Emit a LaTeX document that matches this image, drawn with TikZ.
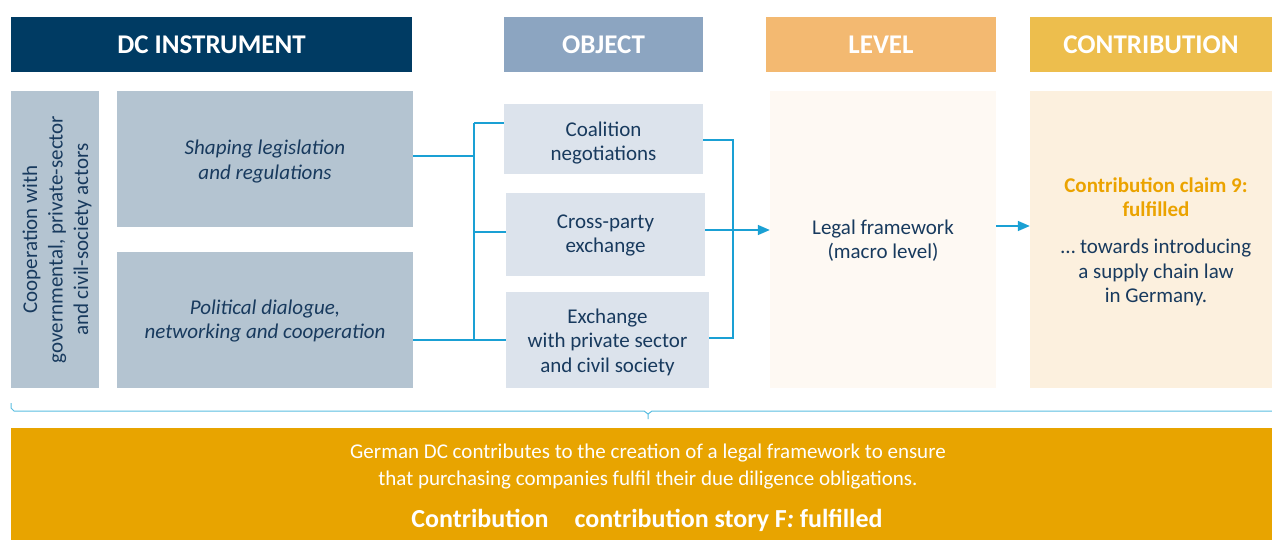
\documentclass[tikz,border=0pt]{standalone}
\usepackage{fontspec}
\setmainfont{Carlito}
\usetikzlibrary{arrows.meta}
\definecolor{navy}{RGB}{0,59,99}
\definecolor{objhdr}{RGB}{140,165,193}
\definecolor{levhdr}{RGB}{243,185,113}
\definecolor{conhdr}{RGB}{237,190,77}
\definecolor{leftbox}{RGB}{180,196,209}
\definecolor{objbox}{RGB}{220,227,236}
\definecolor{levbox}{RGB}{254,249,243}
\definecolor{conbox}{RGB}{252,240,222}
\definecolor{bottombox}{RGB}{232,164,0}
\definecolor{txt}{RGB}{24,58,94}
\definecolor{claim}{RGB}{235,163,0}
\definecolor{conn}{RGB}{26,160,212}
\definecolor{brace}{RGB}{90,190,225}
\begin{document}
\begin{tikzpicture}[x=1pt,y=-1pt,
  hdr/.style={fill=#1, draw=none, text=white, inner sep=0pt,
    font=\fontsize{27}{30}\selectfont\bfseries, minimum height=55pt},
  box/.style={fill=#1, draw=none, inner sep=0pt},
  lbl/.style={text=txt, align=center, inner sep=0pt,
    font=\fontsize{21}{24.5}\selectfont},
  link/.style={draw=conn, line width=1.2pt},
  arr/.style={draw=conn, line width=1.6pt, -{Triangle[length=12pt,width=10pt]}},
  btext/.style={text=white, align=center, inner sep=0pt}
]
\useasboundingbox (0,0) rectangle (1272,540);
\fill[white] (0,0) rectangle (1272,540);

% headers
\node[hdr=navy, minimum width=401pt] (hdc) at (211.5,44.5) {DC INSTRUMENT};
\node[hdr=objhdr, minimum width=199pt] (hobj) at (603.5,44.5) {OBJECT};
\node[hdr=levhdr, minimum width=230pt] (hlev) at (881,44.5) {LEVEL};
\node[hdr=conhdr, minimum width=242pt] (hcon) at (1151,44.5) {CONTRIBUTION};

% instrument column
\node[box=leftbox, minimum width=88pt, minimum height=297pt] (coop) at (55,239.5) {};
\node[lbl, rotate=90, font=\fontsize{21}{25.5}\selectfont] (coop-t) at (57,239.5)
  {Cooperation with\\governmental, private-sector\\and civil-society actors};
\node[box=leftbox, minimum width=296pt, minimum height=136pt] (shaping) at (265,159) {};
\node[lbl, font=\fontsize{21}{24.5}\selectfont\itshape] (shaping-t) at (265,161.5)
  {Shaping legislation\\and regulations};
\node[box=leftbox, minimum width=296pt, minimum height=136pt] (political) at (265,320) {};
\node[lbl, font=\fontsize{21}{24.5}\selectfont\itshape] (political-t) at (265,321)
  {Political dialogue,\\networking and cooperation};

% object column
\node[box=objbox, minimum width=199pt, minimum height=70pt] (coal) at (603.5,139) {};
\node[lbl] (coal-t) at (603.5,143) {Coalition\\negotiations};
\node[box=objbox, minimum width=199pt, minimum height=83pt] (cross) at (605.5,234.5) {};
\node[lbl] (cross-t) at (605.5,235.5) {Cross-party\\exchange};
\node[box=objbox, minimum width=203pt, minimum height=96pt] (exch) at (607.5,340) {};
\node[lbl] (exch-t) at (607.5,342) {Exchange\\with private sector\\and civil society};

% level and contribution
\node[box=levbox, minimum width=226pt, minimum height=297pt] (level) at (883,239.5) {};
\node[lbl] (level-t) at (883,240.5) {Legal framework\\(macro level)};
\node[box=conbox, minimum width=242pt, minimum height=297pt] (contrib) at (1151,239.5) {};
\node[lbl, font=\fontsize{21}{24}\selectfont] (contrib-t) at (1156,242)
  {\textcolor{claim}{\bfseries Contribution claim 9:}\\\textcolor{claim}{\bfseries fulfilled}\\[13pt]
   … towards introducing\\[0.5pt]a supply chain law\\[0.5pt]in Germany.};

% left connector tree
\coordinate (jsh) at (474,156);
\coordinate (jtop) at (474,123);
\coordinate (jcr) at (474,232);
\coordinate (jbot) at (474,340);
\draw[link] (shaping.east |- jsh) -- (jsh);
\draw[link] (jtop) -- (jbot);
\draw[link] (jtop) -- (coal.west |- jtop);
\draw[link] (jcr) -- (cross.west |- jcr);
\draw[link] (political.east |- exch.west) -- (exch.west);

% right connector tree
\coordinate (rtop) at (733,140);
\coordinate (rbot) at (733,338);
\draw[link] (coal.east |- rtop) -- (rtop) -- (rbot) -- (exch.east |- rbot);
\coordinate (a1) at (705,230);
\draw[arr] (cross.east |- a1) -- (level.west |- a1);
\coordinate (a2) at (996,226);
\draw[arr] (level.east |- a2) -- (contrib.west |- a2);

% brace
\coordinate (bl) at (11,403);
\coordinate (bm) at (648,419);
\coordinate (br) at (1272,411);
\draw[draw=brace, line width=1pt] (bl) -- (11,408) -- (14,411) -- (644,411) -- (648,414) -- (bm);
\draw[draw=brace, line width=1pt] (648,414) -- (652,411) -- (br);

% bottom box
\node[fill=bottombox, draw=none, inner sep=0pt, minimum width=1261pt, minimum height=112pt] (bottom) at (641.5,484) {};
\node[btext, anchor=base, font=\fontsize{21}{27}\selectfont] (b1) at (648,458)
  {German DC contributes to the creation of a legal framework to ensure};
\node[btext, anchor=base, font=\fontsize{21}{27}\selectfont] (b2) at (648,485)
  {that purchasing companies fulfil their due diligence obligations.};
\node[btext, anchor=base, font=\fontsize{26}{30}\selectfont\bfseries] (b3) at (647,527)
  {Contribution\quad contribution story F\textit{:} fulfilled};
\end{tikzpicture}
\end{document}
